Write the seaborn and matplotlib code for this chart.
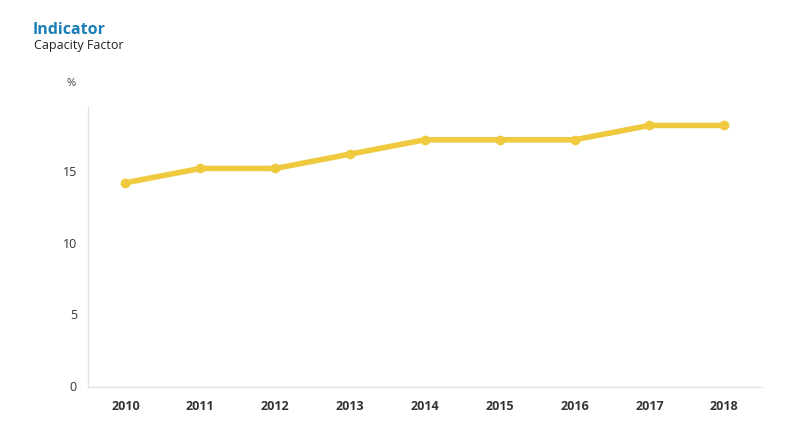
import matplotlib
matplotlib.use("Agg")
import matplotlib.pyplot as plt
import seaborn as sns
import pandas as pd

# Capacity factor by year
years = ["2010", "2011", "2012", "2013", "2014", "2015", "2016", "2017", "2018"]
capacity = [14.1, 15.1, 15.1, 16.1, 17.1, 17.1, 17.1, 18.1, 18.1]
df = pd.DataFrame({"year": years, "value": capacity})

sns.set_style("white")
plt.rcParams["font.family"] = ["Open Sans", "DejaVu Sans"]

fig = plt.figure(figsize=(7.86, 4.31), dpi=100)
ax = fig.add_axes([0.112, 0.0998, 0.857, 0.65])

sns.lineplot(data=df, x="year", y="value", ax=ax, color="#EFCA3F",
             linewidth=4, marker="o", markersize=7, markeredgewidth=0,
             sort=False)

ax.set_xlim(-0.5, 8.5)
ax.set_ylim(-0.15, 19.4)
ax.set_yticks([0, 5, 10, 15])
ax.set_xlabel("")
ax.set_ylabel("")
for s in ["top", "right"]:
    ax.spines[s].set_visible(False)
for s in ["left", "bottom"]:
    ax.spines[s].set_color("#e3e3e3")
    ax.spines[s].set_linewidth(1)
ax.tick_params(axis="y", length=0, labelsize=9, colors="#333333", pad=8)
ax.tick_params(axis="x", length=0, labelsize=9, colors="#333333", pad=9)
for lbl in ax.get_xticklabels():
    lbl.set_fontweight("bold")
# small separators between categories
ax.set_xticks([i + 0.5 for i in range(-1, 9)], minor=True)
ax.tick_params(axis="x", which="minor", length=4, color="#e3e3e3", width=1)

fig.text(0.041, 0.92, "Indicator", fontsize=11.5, fontweight="bold", color="#1A7DB5")
fig.text(0.043, 0.886, "Capacity Factor", fontsize=9, color="#222222")
fig.text(0.085, 0.80, "%", fontsize=8, color="#444444")

fig.savefig("out.png", dpi=100)
